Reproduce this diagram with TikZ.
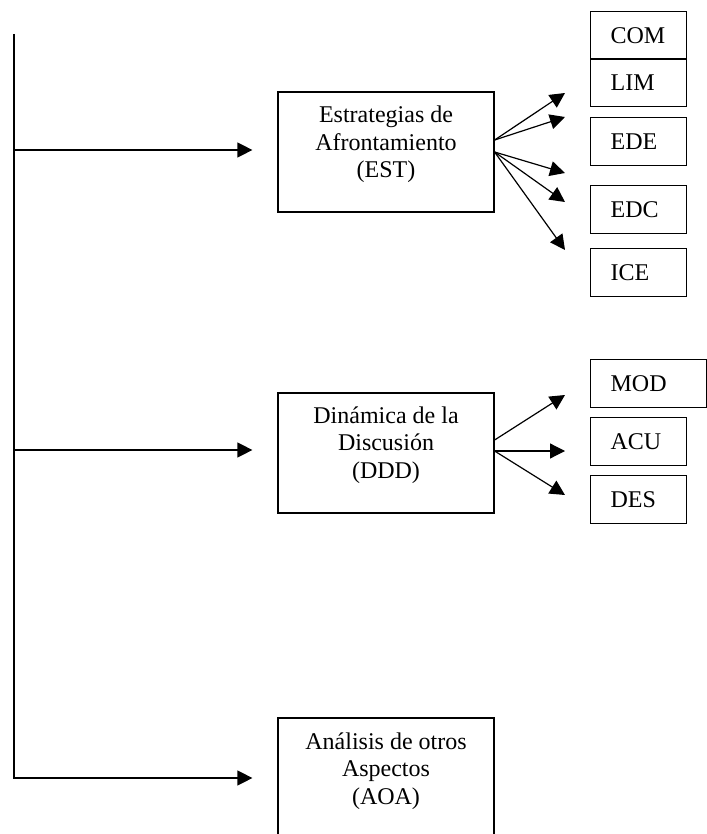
\documentclass[tikz,border=0pt]{standalone}
\usepackage{fontspec}
\setmainfont{Liberation Serif}
\usetikzlibrary{arrows.meta,calc}
\tikzset{
  arr/.style={-{Triangle[length=7.5pt,width=7.5pt]}},
  bigbox/.style={draw,minimum width=108pt,minimum height=60pt,inner sep=0pt},
  boxtext/.style={align=center,font=\fontsize{12pt}{13.8pt}\selectfont},
  smallbox/.style={draw,anchor=north west,align=left,text width=28pt,inner xsep=10pt,
    minimum height=24pt,font=\fontsize{12pt}{13.8pt}\selectfont},
}
\begin{document}
\begin{tikzpicture}[x=0.5pt,y=-0.5pt,line width=0.6pt]
    \useasboundingbox (0,0) rectangle (706,834);
    % main boxes
    \node[bigbox] (est) at (386,152) {};
    \node[boxtext] (esttxt) at ([yshift=3.75pt]est.center) {Estrategias de\\Afrontamiento\\(EST)};
    \node[bigbox] (ddd) at (386,453) {};
    \node[boxtext] (dddtxt) at ([yshift=4pt]ddd.center) {Din\'amica de la\\Discusi\'on\\(DDD)};
    \node[bigbox] (aoa) at (386,778) {};
    \node[boxtext] (aoatxt) at ([yshift=3.5pt]aoa.center) {An\'alisis de otros\\Aspectos\\(AOA)};
    % spine
    \coordinate (top) at (14,34);
    \draw[arr] (top) |- ([xshift=-12.5pt]aoa.west);
    \draw[arr] ([yshift=1pt]top |- est.west) -- ([xshift=-12.5pt,yshift=1pt]est.west);
    \draw[arr] ([yshift=1.5pt]top |- ddd.west) -- ([xshift=-12.5pt,yshift=1.5pt]ddd.west);
    % small boxes
    \foreach \nm/\y in {COM/11,LIM/58,EDE/117,EDC/185,ICE/248,ACU/417,DES/475}
        \node[smallbox] (\nm) at (590,\y) {\nm};
    \node[smallbox,text width=38pt] (MOD) at (590,359) {MOD};
    % fan from EST
    \coordinate (estA) at ($(est.east)+(0,-12)$);
    \coordinate (estB) at (est.east);
    \foreach \n/\y in {1/93,2/117,3/173,4/202,5/250}
        \coordinate (t\n) at (565,\y);
    \foreach \n in {1,2}
        \draw[arr] (estA) -- (t\n);
    \foreach \n in {3,4,5}
        \draw[arr] (estB) -- (t\n);
    % fan from DDD
    \coordinate (dddA) at ($(ddd.east)+(0,-13)$);
    \coordinate (dddB) at ($(ddd.east)+(0,-2)$);
    \foreach \n/\y in {6/395,7/451,8/495}
        \coordinate (t\n) at (565,\y);
    \draw[arr] (dddA) -- (t6);
    \draw[arr] (dddB) -- (t7);
    \draw[arr] (dddB) -- (t8);
\end{tikzpicture}
\end{document}
